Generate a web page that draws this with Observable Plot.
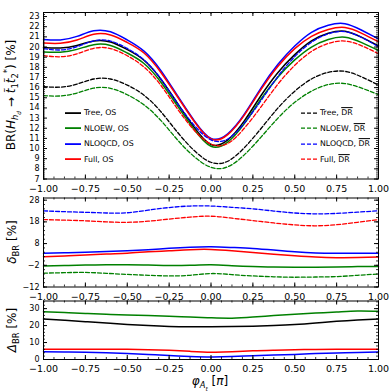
<!DOCTYPE html>
<html><head><meta charset="utf-8">
<script src="https://cdn.jsdelivr.net/npm/d3@7"></script>
<script src="https://cdn.jsdelivr.net/npm/@observablehq/plot@0.6"></script>
<style>
body{margin:0;background:#fff;}
#wrap{position:relative;width:392px;height:392px;overflow:hidden;font-family:"DejaVu Sans",sans-serif;background:#fff;color:#000;}
#wrap > svg{position:absolute;left:0;top:0;}
.ylab{position:absolute;white-space:nowrap;transform:translate(-50%,-50%) rotate(-90deg);font-size:12px;line-height:1;}
.xlab{position:absolute;white-space:nowrap;transform:translate(-50%,-50%);font-size:12px;line-height:1;}
sub,sup{font-size:70%;line-height:0;}
.leg{position:absolute;white-space:pre;font-size:7.8px;line-height:1;transform:translateY(-50%);}
.leg svg{vertical-align:middle;margin-right:3px;}
.ov{text-decoration:overline;}
</style></head><body><div id="wrap"></div>
<script>
// ---------- data ----------
const xMajor = [-1, -0.75, -0.5, -0.25, 0, 0.25, 0.5, 0.75, 1];
const yMajorTop = [7,8,9,10,11,12,13,14,15,16,17,18,19,20,21,22,23];
const yMajorMid = [-12, -2, 8, 18, 28];
const yMajorBot = [0, 10, 20, 30];

const phiTop = [-1,-0.9,-0.8,-0.7,-0.6,-0.5,-0.4,-0.3,-0.2,-0.1,0,0.1,0.2,0.3,0.4,0.5,0.6,0.7,0.8,0.9,1];
const brTreeOS = [19.95,19.9,20.15,20.6,20.5,19.75,18.7,16.85,14.45,12.08,10.4,10.85,12.75,15.25,17.5,19.25,20.6,21.35,21.55,20.95,20.12];
const brEwOS   = [19.51,19.49,19.77,20.23,20.15,19.41,18.38,16.56,14.2,11.87,10.22,10.64,12.48,14.9,17.05,18.73,20.0,20.74,20.97,20.43,19.66];
const brQcdOS  = [20.75,20.7,21.05,21.6,21.5,20.7,19.6,17.7,15.2,12.75,11.0,11.45,13.4,16.0,18.3,20.1,21.45,22.15,22.3,21.65,20.8];
const brFullOS = [20.39,20.37,20.69,21.25,21.18,20.45,19.41,17.52,15.1,12.66,10.94,11.37,13.32,15.85,18.11,19.84,21.05,21.72,21.92,21.35,20.52];
const brTreeDR = [16.1,16.05,16.35,16.85,16.85,16.25,15.25,13.65,11.6,9.8,8.65,8.75,10.1,12.0,14.0,15.65,16.85,17.5,17.6,17.05,16.25];
const brEwDR   = [15.22,15.18,15.47,15.95,15.93,15.3,14.3,12.78,10.85,9.2,8.15,8.2,9.4,11.15,13.0,14.55,15.65,16.3,16.4,15.95,15.3];
const brQcdDR  = [19.84,19.71,20.03,20.61,20.59,19.86,18.73,16.87,14.45,12.28,10.86,10.94,12.52,14.76,17.11,19.05,20.47,21.3,21.51,20.94,20.02];
const brFullDR = [19.16,19.04,19.33,19.87,19.85,19.14,18.03,16.24,13.9,11.8,10.44,10.5,12.02,14.14,16.35,18.2,19.56,20.35,20.59,20.12,19.34];

const phiLow = [-1,-0.875,-0.75,-0.625,-0.5,-0.375,-0.25,-0.125,0,0.125,0.25,0.375,0.5,0.625,0.75,0.875,1];
const deltaQcdDR  = [23.1,22.7,22.4,22.1,22.2,23.4,24.6,25.3,25.3,24.7,24.0,23.0,22.1,21.7,21.9,22.5,23.1];
const deltaFullDR = [19.05,18.8,18.5,18.0,17.8,18.3,19.3,20.2,20.6,19.7,18.6,17.5,16.6,16.2,16.7,17.8,19.05];
const deltaQcdOS  = [3.6,3.8,4.0,4.3,4.7,5.2,5.8,6.3,6.5,6.2,5.75,5.0,4.2,3.7,3.6,3.6,3.6];
const deltaFullOS = [1.9,2.3,2.7,3.2,3.6,4.2,4.7,5.2,5.3,4.7,3.9,3.1,2.4,1.8,1.5,1.55,1.8];
const deltaEwOS   = [-2.3,-2.1,-1.9,-1.8,-1.8,-1.9,-2.1,-2.0,-1.8,-2.2,-2.6,-2.8,-2.9,-2.9,-2.8,-2.6,-2.5];
const deltaEwDR   = [-5.6,-5.4,-5.3,-5.7,-6.2,-6.6,-6.9,-6.6,-5.8,-6.3,-6.9,-7.3,-7.5,-7.4,-7.2,-6.6,-6.0];

const DeltaEw   = [28.2,27.7,27.2,26.7,26.2,25.9,25.5,25.0,24.6,24.4,25.0,25.9,26.7,27.4,28.0,28.6,28.4];
const DeltaTree = [23.9,23.1,22.3,21.5,20.7,20.0,19.5,19.3,19.3,19.4,19.6,20.0,20.6,21.5,22.5,23.3,23.9];
const DeltaFull = [6.1,6.1,6.1,6.1,6.0,5.8,5.4,4.8,4.3,4.5,5.1,5.5,5.8,5.95,6.05,6.1,6.1];
const DeltaQcd  = [4.5,4.4,4.3,4.0,3.6,3.0,2.3,1.8,1.5,1.7,2.2,2.6,3.0,3.5,3.9,4.2,4.5];

// ---------- styling ----------
const W = 392, ML = 43, MR = 14;
const C = {tree: "black", ew: "green", qcd: "blue", full: "red"};
const solid = {strokeWidth: 1.5};
const dashed = {strokeWidth: 1.3, strokeDasharray: "4,2"};

function rows(xs, ys) { return xs.map((x, i) => ({x, y: ys[i]})); }
function line(xs, ys, color, sty) {
  return Plot.line(rows(xs, ys), {x: "x", y: "y", stroke: color, curve: "natural", strokeLinejoin: "round", ...sty});
}
function ticks(ph, pw, yMaj, yMin) {
  const L = 4, l = 2;
  const xMin = d3.range(-1, 1.0001, 0.0625);
  return [
    Plot.ruleX(xMin, {insetTop: ph - l, stroke: "black", strokeWidth: 0.8}),
    Plot.ruleX(xMin, {insetBottom: ph - l, stroke: "black", strokeWidth: 0.8}),
    Plot.ruleX(xMajor, {insetTop: ph - L, stroke: "black"}),
    Plot.ruleX(xMajor, {insetBottom: ph - L, stroke: "black"}),
    Plot.ruleY(yMin, {insetRight: pw - l, stroke: "black", strokeWidth: 0.8}),
    Plot.ruleY(yMin, {insetLeft: pw - l, stroke: "black", strokeWidth: 0.8}),
    Plot.ruleY(yMaj, {insetRight: pw - L, stroke: "black"}),
    Plot.ruleY(yMaj, {insetLeft: pw - L, stroke: "black"})
  ];
}
function panel({top, bottom, yDomain, yMaj, yMin, lines}) {
  const ph = bottom - top, pw = W - ML - MR;
  return Plot.plot({
    width: W, height: W,
    marginLeft: ML, marginRight: MR, marginTop: top, marginBottom: W - bottom,
    style: {background: "transparent", fontFamily: "DejaVu Sans", fontSize: "9.5px", color: "black", overflow: "visible"},
    x: {domain: [-1, 1]},
    y: {domain: yDomain},
    marks: [
      ...lines,
      ...ticks(ph, pw, yMaj, yMin),
      Plot.axisX({ticks: xMajor, tickSize: 0, tickPadding: 6, tickFormat: d3.format(".2f"), label: null, fontSize: 9.5}),
      Plot.axisY({ticks: yMaj, tickSize: 0, tickPadding: 4, tickFormat: d3.format("d"), label: null, fontSize: 8}),
      Plot.frame({stroke: "black", strokeWidth: 1})
    ]
  });
}

const wrap = document.getElementById("wrap");

wrap.append(panel({
  top: 12, bottom: 178.5, yDomain: [7, 23.4], yMaj: yMajorTop, yMin: d3.range(7, 23.41, 0.2),
  lines: [
    line(phiTop, brTreeOS, C.tree, solid),
    line(phiTop, brEwOS, C.ew, solid),
    line(phiTop, brQcdOS, C.qcd, solid),
    line(phiTop, brFullOS, C.full, solid),
    line(phiTop, brTreeDR, C.tree, dashed),
    line(phiTop, brEwDR, C.ew, dashed),
    line(phiTop, brQcdDR, C.qcd, dashed),
    line(phiTop, brFullDR, C.full, dashed)
  ]
}));

wrap.append(panel({
  top: 197.5, bottom: 286.5, yDomain: [-12, 29], yMaj: yMajorMid, yMin: d3.range(-12, 29.01, 2),
  lines: [
    line(phiLow, deltaEwOS, C.ew, solid),
    line(phiLow, deltaQcdOS, C.qcd, solid),
    line(phiLow, deltaFullOS, C.full, solid),
    line(phiLow, deltaEwDR, C.ew, dashed),
    line(phiLow, deltaQcdDR, C.qcd, dashed),
    line(phiLow, deltaFullDR, C.full, dashed)
  ]
}));

wrap.append(panel({
  top: 300.5, bottom: 359, yDomain: [0, 34.5], yMaj: yMajorBot, yMin: d3.range(0, 34.51, 2),
  lines: [
    line(phiLow, DeltaTree, C.tree, solid),
    line(phiLow, DeltaEw, C.ew, solid),
    line(phiLow, DeltaQcd, C.qcd, solid),
    line(phiLow, DeltaFull, C.full, solid)
  ]
}));

// ---------- text: axis titles ----------
function addDiv(cls, html, left, top) {
  const d = document.createElement("div");
  d.className = cls; d.innerHTML = html;
  d.style.left = left + "px"; d.style.top = top + "px";
  wrap.append(d);
}
addDiv("ylab", 'BR(<i>H</i><sub><i>h<sub>d</sub></i></sub> → <i>t̃</i><sub>1</sub><i>t̃</i><sub>2</sub><sup>*</sup>) [%]', 12, 95);
addDiv("ylab", '<i>δ</i><sub>BR</sub> [%]', 12, 242);
addDiv("ylab", '<i>Δ</i><sub>BR</sub> [%]', 12, 330);
addDiv("xlab", '<i>φ</i><sub><i>A<sub>t</sub></i></sub> [<i>π</i>]', 210, 382);

// ---------- legends ----------
const legOS = [["Tree, OS", C.tree], ["NLOEW, OS", C.ew], ["NLOQCD, OS", C.qcd], ["Full, OS", C.full]];
const legDR = [["Tree, ", C.tree], ["NLOEW, ", C.ew], ["NLOQCD, ", C.qcd], ["Full, ", C.full]];
const legY = [113, 128.5, 144, 159.5];
function sample(color, dash) {
  return `<svg width="16" height="4"><line x1="0" x2="16" y1="2" y2="2" stroke="${color}" stroke-width="${dash ? 1.3 : 1.8}" ${dash ? 'stroke-dasharray="4,2"' : ''}/></svg>`;
}
legOS.forEach(([t, c], i) => addDiv("leg", sample(c, false) + "<span>" + t + "</span>", 65, legY[i]));
legDR.forEach(([t, c], i) => addDiv("leg", sample(c, true) + "<span>" + t + '</span><span class="ov">DR</span>', 301, legY[i]));
</script></body></html>
